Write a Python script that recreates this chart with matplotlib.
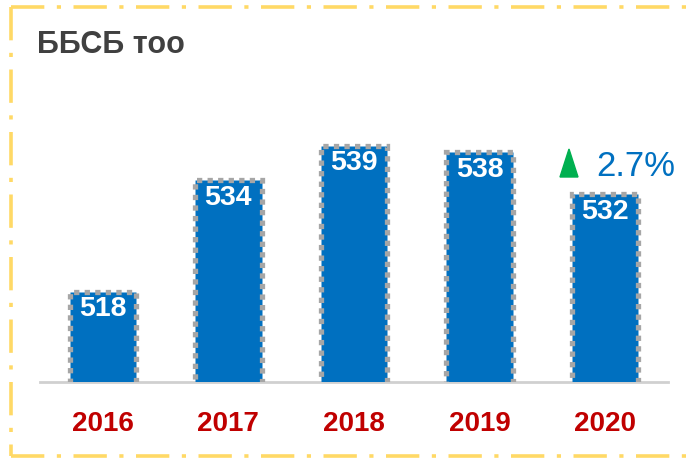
import matplotlib.pyplot as plt
from matplotlib.lines import Line2D
from matplotlib.patches import Polygon

years = ["2016", "2017", "2018", "2019", "2020"]
values = [518, 534, 539, 538, 532]
title = "ББСБ тоо"
change_text = "2.7%"

W, H = 691, 460
fig = plt.figure(figsize=(6.91, 4.60), dpi=100)
ax = fig.add_axes([40 / W, (H - 383) / H, 628 / W, 313 / H])

x = range(len(years))
ax.bar(x, values, width=0.53, color="#0070C0", edgecolor="#A6A6A6",
       linewidth=3.8, linestyle=(0, (1, 1)), zorder=3)

for xi, v in zip(x, values):
    ax.text(xi, v - 0.55, str(v), ha="center", va="top", color="white",
            fontsize=20.5, fontweight="bold", family="Liberation Sans", zorder=4)

ax.set_xlim(-0.5, 4.5)
ax.set_ylim(505, 550)
ax.set_xticks(list(x))
ax.set_xticklabels(years, fontsize=20, fontweight="bold", color="#C00000",
                   family="Liberation Sans")
ax.tick_params(axis="x", length=0, pad=20)
ax.set_yticks([])
for s in ["top", "right", "left"]:
    ax.spines[s].set_visible(False)
ax.spines["bottom"].set_color("#D0D0D0")
ax.spines["bottom"].set_linewidth(2)

# title
fig.text(37 / W, 1 - 45 / H, title, ha="left", va="center", fontsize=22,
         fontweight="bold", color="#404040", family="Liberation Sans")

# growth marker
tri = [(560, 178), (578, 178), (569, 150)]
fig.add_artist(Polygon([(a / W, 1 - b / H) for a, b in tri], closed=True,
                       transform=fig.transFigure, color="#00B050"))
fig.text(596 / W, 1 - 166 / H, change_text, ha="left", va="center",
         fontsize=25, color="#0070C0", family="Liberation Sans")

# yellow dash-dot frame
lw = 2.6
pat = (0, (24 / lw, 9 / lw, 3 / lw, 9 / lw))
for xs, ys in [([11, 700], [8, 8]), ([11, 11], [8, 457]), ([11, 700], [457, 457])]:
    fig.add_artist(Line2D([v / W for v in xs], [1 - v / H for v in ys],
                          transform=fig.transFigure, color="#FFD966",
                          linewidth=lw, linestyle=pat))

fig.savefig("out.png", dpi=100)
